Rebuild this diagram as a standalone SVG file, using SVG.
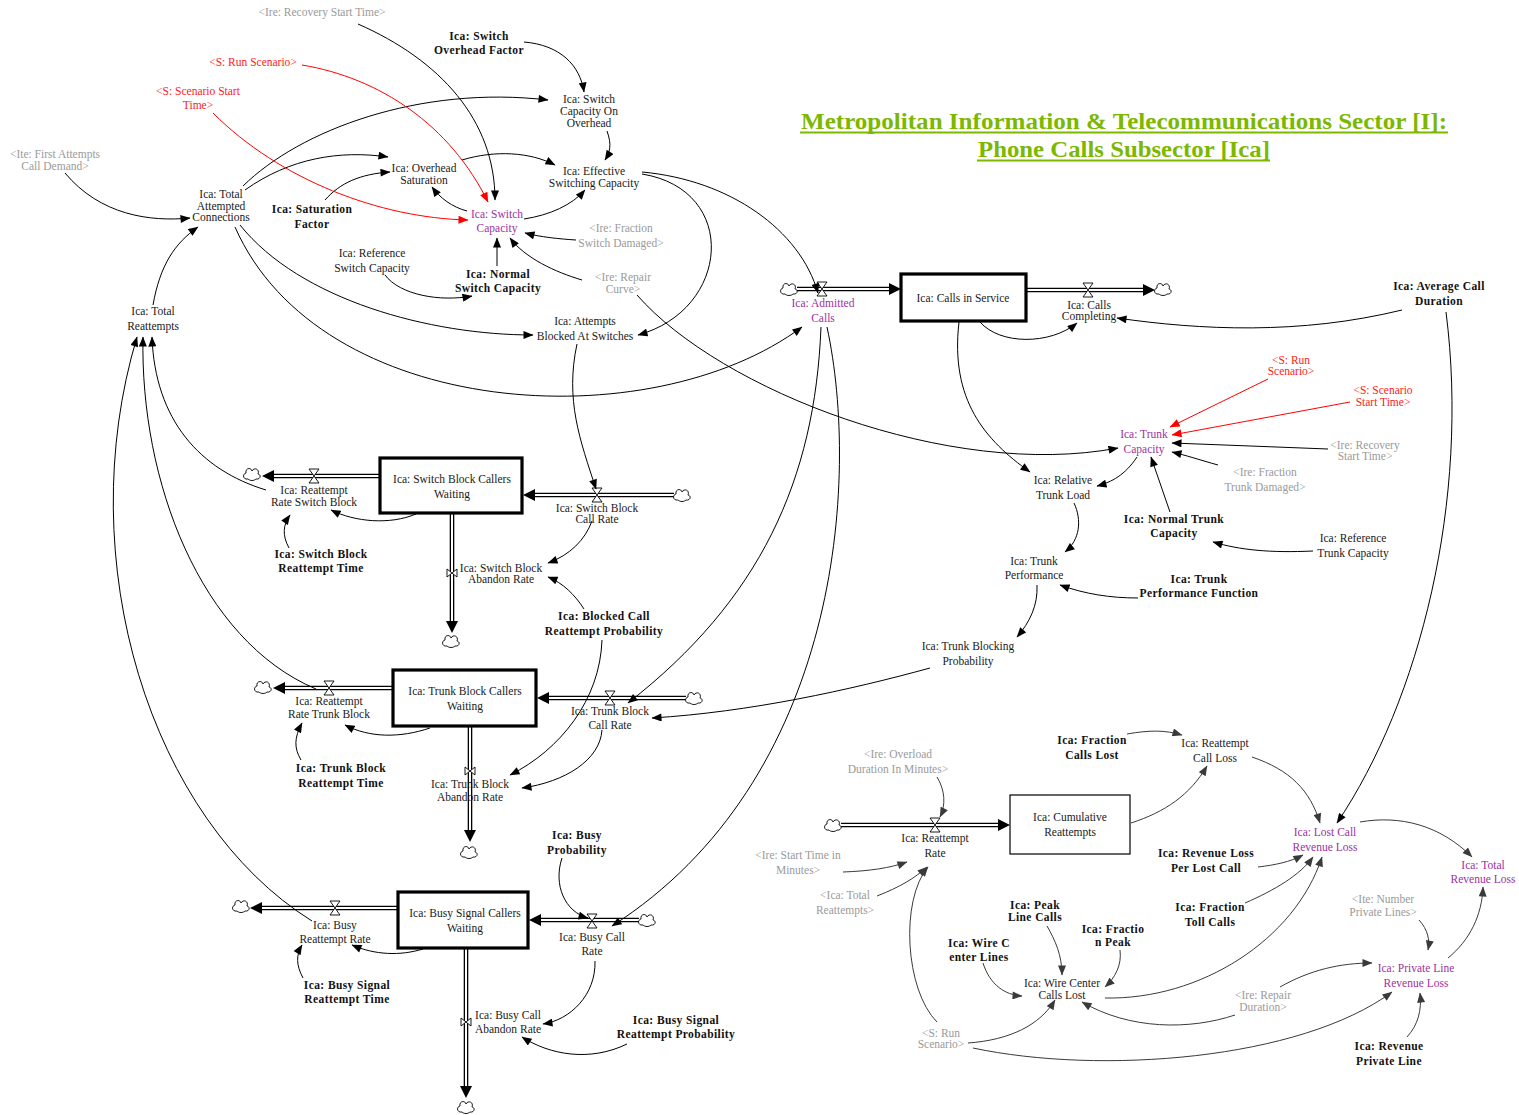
<svg xmlns="http://www.w3.org/2000/svg" xmlns:xlink="http://www.w3.org/1999/xlink" width="1519" height="1115" viewBox="0 0 1519 1115">
<style>
text{font-family:"Liberation Serif","Times New Roman",serif;font-size:11.5px;fill:#1a1a1a;text-anchor:middle}
.b{font-weight:bold;fill:#111;letter-spacing:0.4px}
.g{fill:#9a9a9a}
.r{fill:#ff1a1a}
.p{fill:#a030a0}
.ttl{font-size:24px;font-weight:bold;fill:#7cb800;letter-spacing:0}
.c{fill:none;stroke:#000;stroke-width:1;marker-end:url(#ab)}
.cr{fill:none;stroke:#ff0000;stroke-width:1;marker-end:url(#ar)}
.cg{fill:none;stroke:#3a3a3a;stroke-width:1;marker-end:url(#ag)}
.p1{fill:none;stroke:#000;stroke-width:4.6}
.p2{fill:none;stroke:#fff;stroke-width:2}
.ah{fill:#000}
.v{fill:#fff;stroke:#000;stroke-width:0.9}
.stk{fill:#fff;stroke:#000;stroke-width:3.2}
</style>
<defs>
<marker id="ab" viewBox="0 0 10 8" refX="9.5" refY="4" markerWidth="11" markerHeight="8" markerUnits="userSpaceOnUse" orient="auto"><path d="M0,0L10,4L0,8z" fill="#000"/></marker>
<marker id="ar" viewBox="0 0 10 8" refX="9.5" refY="4" markerWidth="11" markerHeight="8" markerUnits="userSpaceOnUse" orient="auto"><path d="M0,0L10,4L0,8z" fill="#ff0000"/></marker>
<marker id="ag" viewBox="0 0 10 8" refX="9.5" refY="4" markerWidth="11" markerHeight="8" markerUnits="userSpaceOnUse" orient="auto"><path d="M0,0L10,4L0,8z" fill="#3a3a3a"/></marker>
<g id="cl"><path d="M-4,5 C-9,6 -10,0 -6,-1 C-7,-6 -1,-7 0,-3 C2,-7 8,-5 6,0 C10,1 8,6 4,5 C2,7 -2,7 -4,5 Z" fill="#fff" stroke="#000" stroke-width="0.9"/></g>
<path id="vh" class="v" d="M-5,-7H5L-5,7H5Z"/>
<path id="vv" class="v" d="M-5,-4V4L5,-4V4Z"/>
</defs>
<rect width="1519" height="1115" fill="#fff"/>

<g id="title">
<text class="ttl" x="1124" y="129" textLength="646" lengthAdjust="spacingAndGlyphs">Metropolitan Information &amp; Telecommunications Sector [I]:</text>
<text class="ttl" x="1124" y="157" textLength="292" lengthAdjust="spacingAndGlyphs">Phone Calls Subsector [Ica]</text>
<line x1="800" y1="132.5" x2="1448" y2="132.5" stroke="#7cb800" stroke-width="2"/>
<line x1="977" y1="160.5" x2="1270" y2="160.5" stroke="#7cb800" stroke-width="2"/>
</g>

<g id="flows">
<path class="p1" d="M797,289H889"/><path class="p2" d="M797,289H889"/><polygon class="ah" points="889,283 901,289 889,295"/>
<path class="p1" d="M1026,290H1143"/><path class="p2" d="M1026,290H1143"/><polygon class="ah" points="1143,284 1155,290 1143,296"/>
<path class="p1" d="M380,476H274"/><path class="p2" d="M380,476H274"/><polygon class="ah" points="274,470 262,476 274,482"/>
<path class="p1" d="M674,495H535"/><path class="p2" d="M674,495H535"/><polygon class="ah" points="535,489 523,495 535,501"/>
<path class="p1" d="M452,514V621"/><path class="p2" d="M452,514V621"/><polygon class="ah" points="446,621 452,633 458,621"/>
<path class="p1" d="M393,688H285"/><path class="p2" d="M393,688H285"/><polygon class="ah" points="285,682 273,688 285,694"/>
<path class="p1" d="M686,698H549"/><path class="p2" d="M686,698H549"/><polygon class="ah" points="549,692 537,698 549,704"/>
<path class="p1" d="M470,727V830"/><path class="p2" d="M470,727V830"/><polygon class="ah" points="464,830 470,842 476,830"/>
<path class="p1" d="M398,908H262"/><path class="p2" d="M398,908H262"/><polygon class="ah" points="262,902 250,908 262,914"/>
<path class="p1" d="M639,920H541"/><path class="p2" d="M639,920H541"/><polygon class="ah" points="541,914 529,920 541,926"/>
<path class="p1" d="M466,948V1086"/><path class="p2" d="M466,948V1086"/><polygon class="ah" points="460,1086 466,1098 472,1086"/>
<path class="p1" d="M841,825H998"/><path class="p2" d="M841,825H998"/><polygon class="ah" points="998,819 1010,825 998,831"/>
<use href="#cl" x="789" y="289"/><use href="#cl" x="1163" y="289"/>
<use href="#cl" x="252" y="474"/><use href="#cl" x="682" y="495"/><use href="#cl" x="451" y="641"/>
<use href="#cl" x="263" y="687"/><use href="#cl" x="694" y="698"/><use href="#cl" x="469" y="852"/>
<use href="#cl" x="241" y="906"/><use href="#cl" x="647" y="920"/><use href="#cl" x="466" y="1107"/>
<use href="#cl" x="833" y="825"/>
<use href="#vh" x="822" y="289"/><use href="#vh" x="1088" y="290"/>
<use href="#vh" x="314" y="476"/><use href="#vh" x="597" y="495"/><use href="#vv" x="452" y="573"/>
<use href="#vh" x="329" y="688"/><use href="#vh" x="610" y="698"/><use href="#vv" x="470" y="771"/>
<use href="#vh" x="335" y="908"/><use href="#vh" x="592" y="921"/><use href="#vv" x="466" y="1022"/>
<use href="#vh" x="935" y="825"/>
</g>

<g id="connectors">
<path class="c" d="M65,173 C100,215 150,222 190,218"/>
<path class="c" d="M153,305 C160,265 175,243 198,227"/>
<path class="c" d="M243,186 C300,130 420,85 548,100"/>
<path class="c" d="M245,190 C290,158 340,150 388,157"/>
<path class="c" d="M325,200 C340,183 360,174 390,172"/>
<path class="c" d="M462,160 C495,150 530,152 555,165"/>
<path class="c" d="M607,131 C612,145 610,152 605,160"/>
<path class="c" d="M524,42 C560,45 580,65 584,92"/>
<path class="c" d="M358,24 C440,60 495,120 495,200"/>
<path class="cr" d="M302,65 C380,78 450,125 488,202"/>
<path class="cr" d="M213,113 C280,180 380,218 468,220"/>
<path class="c" d="M467,211 C452,207 440,198 432,187"/>
<path class="c" d="M524,219 C550,215 572,205 585,190"/>
<path class="c" d="M576,240 C560,239 540,237 525,233"/>
<path class="c" d="M582,280 C555,272 525,258 510,238"/>
<path class="c" d="M497,266 L497,238"/>
<path class="c" d="M385,275 C400,295 440,302 472,296"/>
<path class="c" d="M240,225 C300,300 430,335 533,335"/>
<path class="c" d="M642,174 C740,190 730,310 638,335"/>
<path class="c" d="M642,172 C730,180 800,230 818,293"/>
<path class="c" d="M637,295 C720,390 950,480 1118,448"/>
<path class="c" d="M235,227 C320,420 650,440 802,327"/>
<path class="c" d="M577,344 C565,400 580,440 596,489"/>
<path class="c" d="M821,327 C815,480 760,600 628,703"/>
<path class="c" d="M827,327 C860,480 840,780 612,926"/>
<path class="c" d="M959,322 C950,400 985,440 1030,472"/>
<path class="c" d="M980,322 C1000,345 1050,345 1077,323"/>
<path class="c" d="M1402,310 C1300,335 1200,330 1117,318"/>
<path class="c" d="M1446,312 C1470,500 1420,700 1337,823"/>
<path class="cr" d="M1268,379 L1170,427"/>
<path class="cr" d="M1350,402 L1172,435"/>
<path class="c" d="M1328,449 L1172,443"/>
<path class="c" d="M1218,465 C1200,460 1185,455 1172,452"/>
<path class="c" d="M1170,512 L1151,457"/>
<path class="c" d="M1137,457 C1125,475 1112,482 1097,486"/>
<path class="c" d="M1313,551 C1270,553 1240,550 1213,542"/>
<path class="c" d="M1074,503 C1082,520 1080,540 1065,552"/>
<path class="c" d="M1138,598 C1110,598 1085,594 1060,585"/>
<path class="c" d="M1037,585 C1038,605 1030,622 1017,637"/>
<path class="c" d="M930,668 C850,690 750,712 652,718"/>
<path class="c" d="M416,514 C390,525 355,522 331,510"/>
<path class="c" d="M289,548 C282,535 283,525 290,515"/>
<path class="c" d="M592,521 C585,540 570,555 548,563"/>
<path class="c" d="M584,609 C575,595 563,583 548,577"/>
<path class="c" d="M602,640 C600,700 560,750 510,775"/>
<path class="c" d="M602,730 C600,760 565,782 522,788"/>
<path class="c" d="M430,728 C400,738 370,738 345,725"/>
<path class="c" d="M301,760 C294,748 294,738 302,723"/>
<path class="c" d="M562,858 C553,885 565,912 588,918"/>
<path class="c" d="M423,949 C400,956 375,955 352,945"/>
<path class="c" d="M303,978 C296,965 296,955 302,945"/>
<path class="c" d="M595,961 C596,995 570,1020 543,1024"/>
<path class="c" d="M627,1044 C590,1062 550,1055 522,1037"/>
<path class="c" d="M266,490 C200,470 155,420 152,337"/>
<path class="c" d="M316,689 C200,640 140,480 143,337"/>
<path class="c" d="M312,921 C150,820 70,560 137,337"/>
<path class="cg" d="M937,777 C945,790 946,805 940,817"/>
<path class="cg" d="M843,872 C870,871 890,868 907,862"/>
<path class="cg" d="M877,896 C900,887 915,878 927,867"/>
<path class="cg" d="M937,1022 C905,990 900,900 928,867"/>
<path class="cg" d="M968,1043 C1010,1040 1040,1025 1055,1000"/>
<path class="cg" d="M973,1048 C1100,1075 1300,1060 1392,992"/>
<path class="cg" d="M1131,823 C1165,812 1190,795 1207,766"/>
<path class="cg" d="M1127,734 C1150,730 1165,730 1182,735"/>
<path class="cg" d="M1252,757 C1290,770 1310,790 1320,823"/>
<path class="cg" d="M1258,867 C1275,865 1290,862 1303,855"/>
<path class="cg" d="M1245,903 C1275,890 1300,875 1313,857"/>
<path class="cg" d="M1105,998 C1200,1000 1295,940 1322,857"/>
<path class="cg" d="M1360,822 C1400,815 1440,825 1472,857"/>
<path class="cg" d="M1448,958 C1470,940 1482,915 1483,887"/>
<path class="cg" d="M1419,920 C1428,930 1430,940 1428,950"/>
<path class="cg" d="M1280,987 C1310,970 1340,963 1372,963"/>
<path class="cg" d="M1235,1015 C1190,1030 1130,1030 1082,1002"/>
<path class="cg" d="M1407,1037 C1418,1025 1422,1010 1420,993"/>
<path class="cg" d="M983,963 C990,985 1005,995 1022,996"/>
<path class="cg" d="M1047,926 C1055,940 1062,955 1062,975"/>
<path class="cg" d="M1120,950 C1122,965 1115,978 1105,987"/>
</g>

<g id="recovery_start_time_1"><text class="g" x="322" y="16">&lt;Ire: Recovery Start Time&gt;</text></g>
<g id="run_scenario_1"><text class="r" x="253" y="66">&lt;S: Run Scenario&gt;</text></g>
<g id="scenario_start_time_1"><text class="r" x="198" y="95">&lt;S: Scenario Start</text><text class="r" x="198" y="109">Time&gt;</text></g>
<g id="first_attempts"><text class="g" x="55" y="158">&lt;Ite: First Attempts</text><text class="g" x="55" y="170">Call Demand&gt;</text></g>
<g id="total_attempted"><text x="221" y="198">Ica: Total</text><text x="221" y="210">Attempted</text><text x="221" y="221">Connections</text></g>
<g id="saturation_factor"><text class="b" x="312" y="213">Ica: Saturation</text><text class="b" x="312" y="228">Factor</text></g>
<g id="switch_overhead_factor"><text class="b" x="479" y="40">Ica: Switch</text><text class="b" x="479" y="54">Overhead Factor</text></g>
<g id="switch_capacity_overhead"><text x="589" y="103">Ica: Switch</text><text x="589" y="115">Capacity On</text><text x="589" y="127">Overhead</text></g>
<g id="overhead_saturation"><text x="424" y="172">Ica: Overhead</text><text x="424" y="184">Saturation</text></g>
<g id="effective_switching"><text x="594" y="175">Ica: Effective</text><text x="594" y="187">Switching Capacity</text></g>
<g id="switch_capacity"><text class="p" x="497" y="218">Ica: Switch</text><text class="p" x="497" y="232">Capacity</text></g>
<g id="fraction_switch_damaged"><text class="g" x="621" y="232">&lt;Ire: Fraction</text><text class="g" x="621" y="247">Switch Damaged&gt;</text></g>
<g id="repair_curve"><text class="g" x="623" y="281">&lt;Ire: Repair</text><text class="g" x="623" y="293">Curve&gt;</text></g>
<g id="reference_switch"><text x="372" y="257">Ica: Reference</text><text x="372" y="272">Switch Capacity</text></g>
<g id="normal_switch"><text class="b" x="498" y="278">Ica: Normal</text><text class="b" x="498" y="292">Switch Capacity</text></g>
<g id="attempts_blocked"><text x="585" y="325">Ica: Attempts</text><text x="585" y="340">Blocked At Switches</text></g>
<g id="total_reattempts"><text x="153" y="315">Ica: Total</text><text x="153" y="330">Reattempts</text></g>
<g id="admitted_calls"><text class="p" x="823" y="307">Ica: Admitted</text><text class="p" x="823" y="322">Calls</text></g>
<g id="calls_in_service"><rect class="stk" x="901" y="274" width="125" height="47"/><text x="963" y="302">Ica: Calls in Service</text></g>
<g id="calls_completing"><text x="1089" y="309">Ica: Calls</text><text x="1089" y="320">Completing</text></g>
<g id="average_call_duration"><text class="b" x="1439" y="290">Ica: Average Call</text><text class="b" x="1439" y="305">Duration</text></g>
<g id="run_scenario_2"><text class="r" x="1291" y="364">&lt;S: Run</text><text class="r" x="1291" y="375">Scenario&gt;</text></g>
<g id="scenario_start_time_2"><text class="r" x="1383" y="394">&lt;S: Scenario</text><text class="r" x="1383" y="406">Start Time&gt;</text></g>
<g id="trunk_capacity"><text class="p" x="1144" y="438">Ica: Trunk</text><text class="p" x="1144" y="453">Capacity</text></g>
<g id="recovery_start_time_2"><text class="g" x="1365" y="449">&lt;Ire: Recovery</text><text class="g" x="1365" y="460">Start Time&gt;</text></g>
<g id="fraction_trunk_damaged"><text class="g" x="1265" y="476">&lt;Ire: Fraction</text><text class="g" x="1265" y="491">Trunk Damaged&gt;</text></g>
<g id="relative_trunk_load"><text x="1063" y="484">Ica: Relative</text><text x="1063" y="499">Trunk Load</text></g>
<g id="normal_trunk"><text class="b" x="1174" y="523">Ica: Normal Trunk</text><text class="b" x="1174" y="537">Capacity</text></g>
<g id="reference_trunk"><text x="1353" y="542">Ica: Reference</text><text x="1353" y="557">Trunk Capacity</text></g>
<g id="trunk_performance"><text x="1034" y="565">Ica: Trunk</text><text x="1034" y="579">Performance</text></g>
<g id="trunk_performance_function"><text class="b" x="1199" y="583">Ica: Trunk</text><text class="b" x="1199" y="597">Performance Function</text></g>
<g id="trunk_blocking"><text x="968" y="650">Ica: Trunk Blocking</text><text x="968" y="665">Probability</text></g>

<g id="switch_block_waiting"><rect class="stk" x="380" y="458" width="142" height="55"/><text x="452" y="483">Ica: Switch Block Callers</text><text x="452" y="498">Waiting</text></g>
<g id="reattempt_switch_block"><text x="314" y="494">Ica: Reattempt</text><text x="314" y="506">Rate Switch Block</text></g>
<g id="switch_block_call_rate"><text x="597" y="512">Ica: Switch Block</text><text x="597" y="523">Call Rate</text></g>
<g id="switch_block_abandon"><text x="501" y="572">Ica: Switch Block</text><text x="501" y="583">Abandon Rate</text></g>
<g id="switch_block_reattempt_time"><text class="b" x="321" y="558">Ica: Switch Block</text><text class="b" x="321" y="572">Reattempt Time</text></g>
<g id="blocked_call_reattempt"><text class="b" x="604" y="620">Ica: Blocked Call</text><text class="b" x="604" y="635">Reattempt Probability</text></g>

<g id="trunk_block_waiting"><rect class="stk" x="393" y="670" width="143" height="56"/><text x="465" y="695">Ica: Trunk Block Callers</text><text x="465" y="710">Waiting</text></g>
<g id="reattempt_trunk_block"><text x="329" y="705">Ica: Reattempt</text><text x="329" y="718">Rate Trunk Block</text></g>
<g id="trunk_block_call_rate"><text x="610" y="715">Ica: Trunk Block</text><text x="610" y="729">Call Rate</text></g>
<g id="trunk_block_abandon"><text x="470" y="788">Ica: Trunk Block</text><text x="470" y="801">Abandon Rate</text></g>
<g id="trunk_block_reattempt_time"><text class="b" x="341" y="772">Ica: Trunk Block</text><text class="b" x="341" y="787">Reattempt Time</text></g>
<g id="busy_probability"><text class="b" x="577" y="839">Ica: Busy</text><text class="b" x="577" y="854">Probability</text></g>

<g id="busy_signal_waiting"><rect class="stk" x="398" y="892" width="130" height="56"/><text x="465" y="917">Ica: Busy Signal Callers</text><text x="465" y="932">Waiting</text></g>
<g id="busy_reattempt_rate"><text x="335" y="929">Ica: Busy</text><text x="335" y="943">Reattempt Rate</text></g>
<g id="busy_call_rate"><text x="592" y="941">Ica: Busy Call</text><text x="592" y="955">Rate</text></g>
<g id="busy_call_abandon"><text x="508" y="1019">Ica: Busy Call</text><text x="508" y="1033">Abandon Rate</text></g>
<g id="busy_signal_reattempt_time"><text class="b" x="347" y="989">Ica: Busy Signal</text><text class="b" x="347" y="1003">Reattempt Time</text></g>
<g id="busy_signal_reattempt_prob"><text class="b" x="676" y="1024">Ica: Busy Signal</text><text class="b" x="676" y="1038">Reattempt Probability</text></g>

<g id="overload_duration"><text class="g" x="898" y="758">&lt;Ire: Overload</text><text class="g" x="898" y="773">Duration In Minutes&gt;</text></g>
<g id="reattempt_rate"><text x="935" y="842">Ica: Reattempt</text><text x="935" y="857">Rate</text></g>
<g id="cumulative_reattempts"><rect x="1010" y="795" width="120" height="59" fill="#fff" stroke="#000" stroke-width="1.2"/><text x="1070" y="821">Ica: Cumulative</text><text x="1070" y="836">Reattempts</text></g>
<g id="start_time_minutes"><text class="g" x="798" y="859">&lt;Ire: Start Time in</text><text class="g" x="798" y="874">Minutes&gt;</text></g>
<g id="total_reattempts_shadow"><text class="g" x="845" y="899">&lt;Ica: Total</text><text class="g" x="845" y="914">Reattempts&gt;</text></g>
<g id="run_scenario_3"><text class="g" x="941" y="1037">&lt;S: Run</text><text class="g" x="941" y="1048">Scenario&gt;</text></g>
<g id="fraction_calls_lost"><text class="b" x="1092" y="744">Ica: Fraction</text><text class="b" x="1092" y="759">Calls Lost</text></g>
<g id="reattempt_call_loss"><text x="1215" y="747">Ica: Reattempt</text><text x="1215" y="762">Call Loss</text></g>
<g id="revenue_loss_per_call"><text class="b" x="1206" y="857">Ica: Revenue Loss</text><text class="b" x="1206" y="872">Per Lost Call</text></g>
<g id="lost_call_revenue"><text class="p" x="1325" y="836">Ica: Lost Call</text><text class="p" x="1325" y="851">Revenue Loss</text></g>
<g id="total_revenue_loss"><text class="p" x="1483" y="869">Ica: Total</text><text class="p" x="1483" y="883">Revenue Loss</text></g>
<g id="peak_line_calls"><text class="b" x="1035" y="909">Ica: Peak</text><text class="b" x="1035" y="921">Line Calls</text></g>
<g id="fraction_peak"><text class="b" x="1113" y="933">Ica: Fractio</text><text class="b" x="1113" y="946">n Peak</text></g>
<g id="wire_center_lines"><text class="b" x="979" y="947">Ica: Wire C</text><text class="b" x="979" y="961">enter Lines</text></g>
<g id="fraction_toll_calls"><text class="b" x="1210" y="911">Ica: Fraction</text><text class="b" x="1210" y="926">Toll Calls</text></g>
<g id="wire_center_calls_lost"><text x="1062" y="987">Ica: Wire Center</text><text x="1062" y="999">Calls Lost</text></g>
<g id="number_private_lines"><text class="g" x="1383" y="903">&lt;Ite: Number</text><text class="g" x="1383" y="916">Private Lines&gt;</text></g>
<g id="repair_duration"><text class="g" x="1263" y="999">&lt;Ire: Repair</text><text class="g" x="1263" y="1011">Duration&gt;</text></g>
<g id="private_line_revenue"><text class="p" x="1416" y="972">Ica: Private Line</text><text class="p" x="1416" y="987">Revenue Loss</text></g>
<g id="revenue_private_line"><text class="b" x="1389" y="1050">Ica: Revenue</text><text class="b" x="1389" y="1065">Private Line</text></g>
</svg>
